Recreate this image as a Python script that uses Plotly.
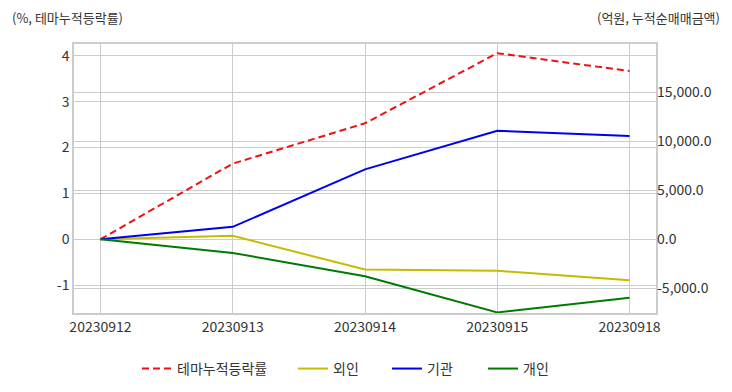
import plotly.graph_objects as go

dates = ["20230912", "20230913", "20230914", "20230915", "20230918"]
theme_cum = [0.0, 1.65, 2.53, 4.06, 3.67]          # % (left axis)
foreign = [0.0, 340, -3100, -3230, -4200]           # 억원 (right axis)
institution = [0.0, 1260, 7130, 11070, 10530]
individual = [0.0, -1400, -3780, -7480, -5990]

left_ticks = [-1, 0, 1, 2, 3, 4]
left_labels = ["-1", "0", "1", "2", "3", "4"]
right_ticks = [-5000, 0, 5000, 10000, 15000]
right_labels = ["-5,000.0", "0.0", "5,000.0", "10,000.0", "15,000.0"]

FONT = "Noto Sans CJK KR"
TXT = "#333333"
GRID = "#cccccc"

fig = go.Figure()
fig.add_trace(go.Scatter(x=dates, y=theme_cum, name="테마누적등락률", mode="lines",
                         line=dict(color="#ee1111", width=2, dash="7px,4px"), yaxis="y",
                         legend="legend"))
fig.add_trace(go.Scatter(x=dates, y=foreign, name="외인", mode="lines",
                         line=dict(color="#c4bc00", width=2), yaxis="y2", legend="legend2"))
fig.add_trace(go.Scatter(x=dates, y=institution, name="기관", mode="lines",
                         line=dict(color="#0000ee", width=2), yaxis="y2", legend="legend3"))
fig.add_trace(go.Scatter(x=dates, y=individual, name="개인", mode="lines",
                         line=dict(color="#007a00", width=2), yaxis="y2", legend="legend4"))


def leg(px):
    # px: screen x of the legend line sample start
    return dict(orientation="h", x=(px - 74 - 3) / 582, xanchor="left",
                y=-0.208, yanchor="middle", font=dict(size=14, color=TXT),
                itemwidth=30, bgcolor="rgba(0,0,0,0)", borderwidth=0)


# page body has an 8px default margin, so the figure is 8px smaller and offset
fig.update_layout(
    width=724, height=384,
    margin=dict(l=66, r=76, t=36, b=79, autoexpand=False),
    paper_bgcolor="white", plot_bgcolor="white",
    font=dict(family=FONT, size=14, color=TXT),
    xaxis=dict(type="category", range=[-0.2, 4.2], showgrid=True, gridcolor=GRID,
               gridwidth=1, showline=True, linecolor=GRID, linewidth=1.5, mirror=True,
               ticks="", zeroline=False, tickfont=dict(size=14, color=TXT)),
    yaxis=dict(range=[-1.61, 4.26], tickvals=left_ticks, ticktext=left_labels,
               showgrid=True, gridcolor=GRID, gridwidth=1, zeroline=False,
               showline=True, linecolor=GRID, linewidth=1.5, mirror=True,
               ticks="", tickfont=dict(size=14, color=TXT)),
    yaxis2=dict(range=[-7540, 19940], overlaying="y", side="right",
                tickvals=right_ticks, ticktext=right_labels,
                showgrid=True, gridcolor=GRID, gridwidth=1, zeroline=False,
                showline=False, ticks="", tickfont=dict(size=14, color=TXT)),
    legend=leg(140), legend2=leg(296), legend3=leg(390), legend4=leg(486),
    showlegend=True,
)

fig.add_annotation(text="(%, 테마누적등락률)", xref="paper", yref="paper",
                   x=-0.110, y=1.10, xanchor="left", yanchor="middle",
                   showarrow=False, font=dict(size=13, color=TXT))
fig.add_annotation(text="(억원, 누적순매매금액)", xref="paper", yref="paper",
                   x=1.113, y=1.10, xanchor="right", yanchor="middle",
                   showarrow=False, font=dict(size=13, color=TXT))

fig.write_html("out.html")
